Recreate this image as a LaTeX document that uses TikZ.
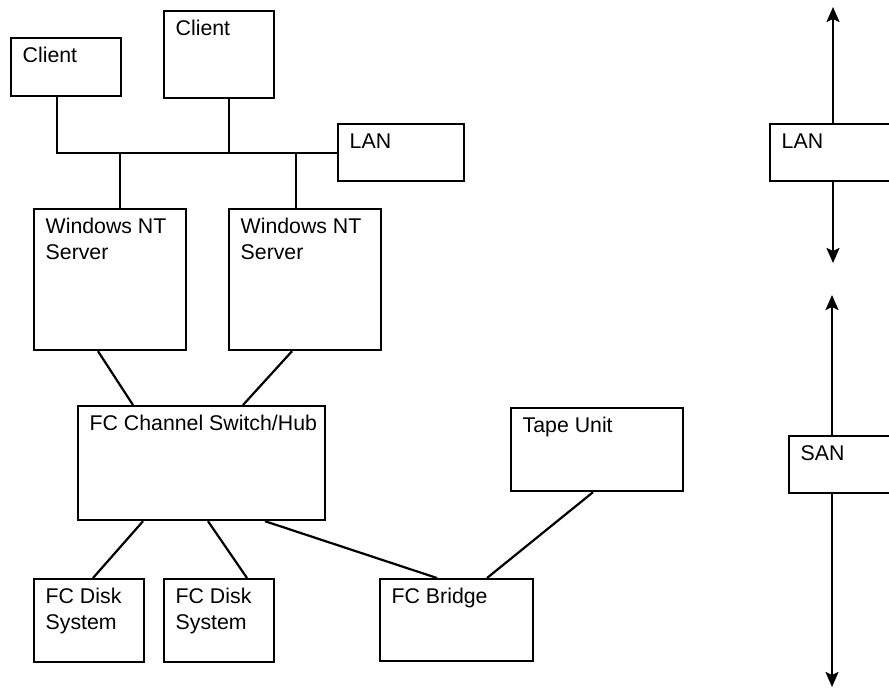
\documentclass[tikz,border=0pt]{standalone}
\usepackage{fontspec}
\setmainfont{Liberation Sans}
\usetikzlibrary{arrows.meta}
\newcommand\lines[1]{\begin{tabular}[t]{@{}l@{}}#1\end{tabular}}
\tikzset{
  unit/.style 2 args={draw, line width=2.2pt, anchor=north west, inner sep=0pt, minimum width=#1pt, minimum height=#2pt},
  tag/.style={anchor=base west, inner sep=0pt, xshift=12.5pt, yshift=-25.5pt},
  wire/.style={line width=2.2pt},
}
\begin{document}
\begin{tikzpicture}[x=1pt,y=-1pt,font=\fontsize{21.3}{26}\selectfont,>={Stealth[length=15pt,width=13pt,inset=3pt]}]
\useasboundingbox (0,0) rectangle (889,689);
% boxes: name/left/top/width/height/text
\foreach \n/\x/\y/\w/\h/\t in {client1/10/37/110/58/Client, client2/163/10/110/87/Client,
    lan/337/123/126/57/LAN, srv1/33/208/152/141/{Windows NT\\Server}, srv2/228/208/152/141/{Windows NT\\Server},
    switch/77/405/247/114/{FC Channel Switch/Hub}, tape/510/407/172/83/Tape Unit,
    disk1/33/578/110/83/{FC Disk\\System}, disk2/163/578/110/83/{FC Disk\\System}, bridge/379/578/153/82/FC Bridge,
    lanR/769/123/200/57/LAN, sanR/788/435/181/57/SAN}
  \node[unit={\w}{\h}, label={[tag]north west:\lines{\t}}] (\n) at (\x,\y) {};
% LAN bus
\draw[wire] ([xshift=-9]client1.south) |- (lan.west);
\draw[wire] ([xshift=10]client2.south) -- ([xshift=10]client2.south |- lan.west);
\foreach \n/\dx in {srv1/10,srv2/-9}
  \draw[wire] ([xshift=\dx]\n.north) -- ([xshift=\dx]\n.north |- lan.west);
% fibre channel links
\foreach \a/\da/\b/\db in {srv1/65/switch/56, srv2/64/switch/166, switch/66/disk1/60,
    switch/131/disk2/84, switch/188/bridge/58, tape/83/bridge/108}
  \draw[wire] ([xshift=\da]\a.south west) -- ([xshift=\db]\b.north west);
% LAN / SAN ranges
\coordinate (lanUp) at (833,7);
\coordinate (lanDn) at (833,263);
\coordinate (sanUp) at (832,295);
\coordinate (sanDn) at (832,687);
\draw[wire,->] (lanUp |- lanR.north) -- (lanUp);
\draw[wire,->] (lanDn |- lanR.south) -- (lanDn);
\draw[wire,->] (sanUp |- sanR.north) -- (sanUp);
\draw[wire,->] (sanDn |- sanR.south) -- (sanDn);
\end{tikzpicture}
\end{document}
